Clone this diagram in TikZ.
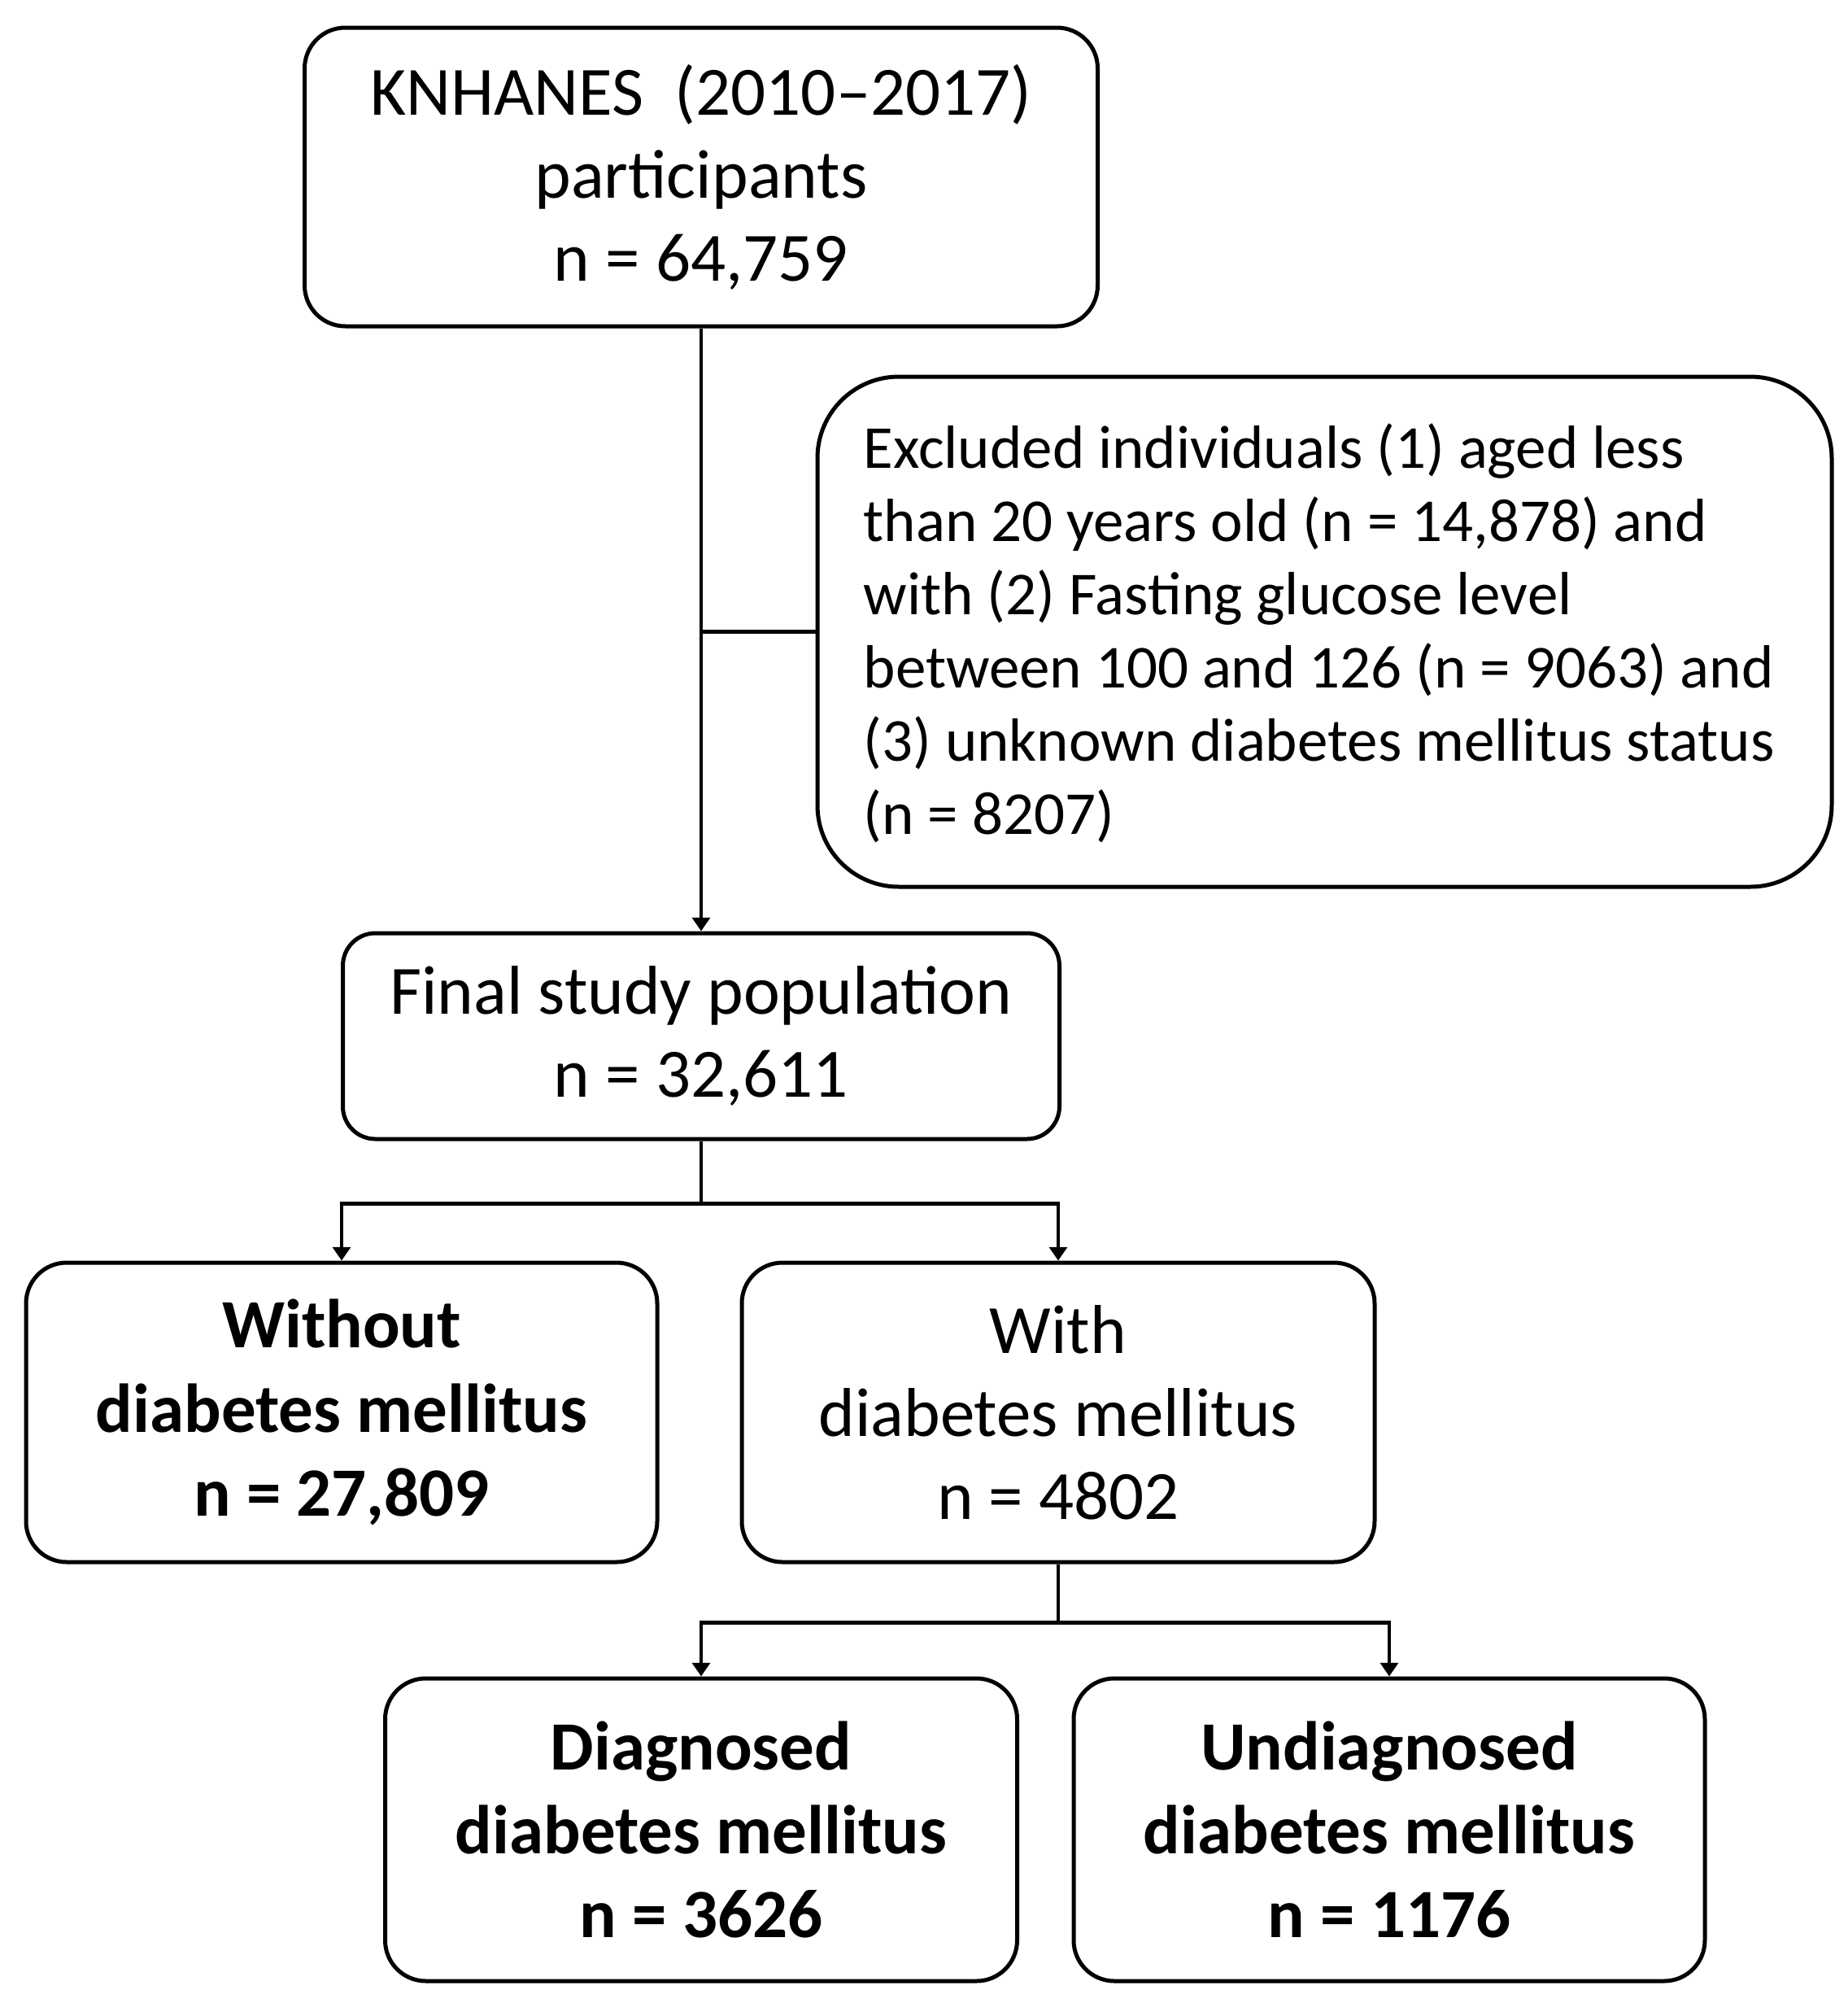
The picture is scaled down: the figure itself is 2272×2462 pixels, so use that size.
\documentclass[tikz,border=0pt]{standalone}
\usepackage{fontspec}
\setmainfont{Carlito}
\usetikzlibrary{arrows.meta}
\begin{document}
\begin{tikzpicture}[x=0.3pt,y=-0.3pt,
  box/.style={draw=black, line width=1.5pt, rounded corners=15pt, fill=white, align=center, inner sep=0pt,
    font=\fontsize{25.5pt}{30.6pt}\selectfont},
  boldbox/.style={box, font=\fontsize{25.5pt}{31pt}\selectfont\bfseries},
  conn/.style={line width=1.25pt},
  arr/.style={conn, -{Triangle[width=6.5pt,length=5pt]}}]
\useasboundingbox[fill=white] (0,0) rectangle (2272,2462);

\node[box, minimum width=292.5pt, minimum height=110.1pt] (top) at (862,217.5)
  {KNHANES\ \ (2010–2017)\\participants\\n = 64,759};

\node[box, rounded corners=30pt, minimum width=374.1pt, minimum height=188.1pt] (excl) at (1628.5,776.5) {};
\node[align=left, inner sep=0pt, anchor=west,
  font=\fontsize{22.5pt}{27pt}\selectfont] (excltext) at (1061,778)
  {Excluded individuals (1) aged less\\
   than 20 years old (n = 14,878) and\\
   with (2) Fasting glucose level\\
   between 100 and 126 (n = 9063) and\\
   (3) unknown diabetes mellitus status\\
   (n = 8207)};

\node[box, rounded corners=12pt, minimum width=264.3pt, minimum height=75.9pt] (final) at (862,1273.5)
  {Final study population\\n = 32,611};

\node[boldbox, minimum width=232.8pt, minimum height=110.4pt] (without) at (420,1736)
  {Without\\diabetes mellitus\\n = 27,809};

\node[box, minimum width=233.4pt, minimum height=110.4pt] (with) at (1301,1736)
  {With\\diabetes mellitus\\n = 4802};

\node[boldbox, minimum width=233.1pt, minimum height=111.6pt] (diag) at (862,2249)
  {Diagnosed\\diabetes mellitus\\n = 3626};

\node[boldbox, minimum width=232.8pt, minimum height=111.6pt] (undiag) at (1708,2249)
  {Undiagnosed\\diabetes mellitus\\n = 1176};

\draw[arr] (top.south) -- (final.north);
\draw[conn] (top.south |- excl.west) -- (excl.west);

\path (final.south) ++(0,77) coordinate (b1);
\draw[conn] (final.south) -- (b1);
\draw[arr] (b1) -| (without.north);
\draw[arr] (b1) -| (with.north);

\path (with.south) ++(0,72) coordinate (b2);
\draw[conn] (with.south) -- (b2);
\draw[arr] (b2) -| (diag.north);
\draw[arr] (b2) -| (undiag.north);
\end{tikzpicture}
\end{document}
